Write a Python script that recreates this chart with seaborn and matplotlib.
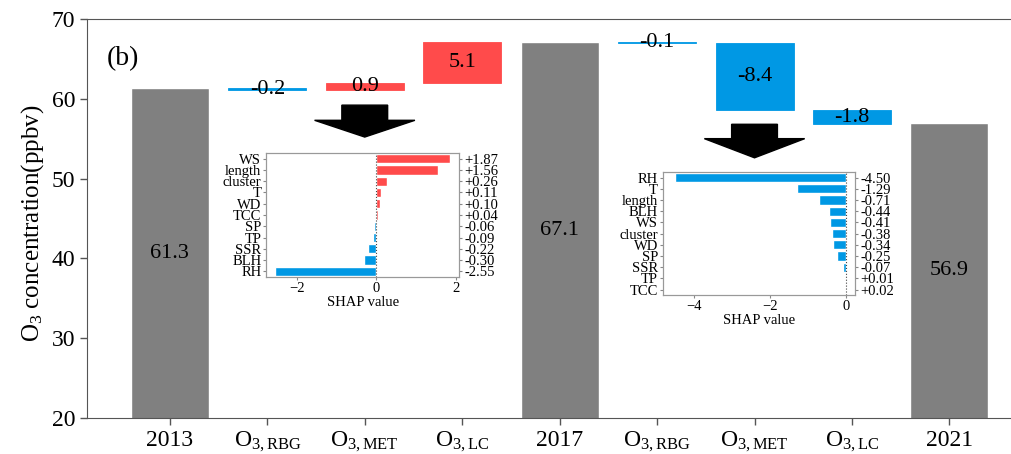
import numpy as np
import pandas as pd
import matplotlib
matplotlib.use('Agg')
import matplotlib.pyplot as plt
import seaborn as sns

sns.set_style('white')
plt.rcParams['font.family'] = ['Liberation Serif', 'DejaVu Serif']
plt.rcParams['mathtext.fontset'] = 'custom'
plt.rcParams['mathtext.rm'] = 'Liberation Serif'
plt.rcParams['mathtext.it'] = 'Liberation Serif:italic'
plt.rcParams['text.color'] = 'black'
plt.rcParams['axes.labelcolor'] = 'black'
plt.rcParams['xtick.labelcolor'] = 'black'
plt.rcParams['ytick.labelcolor'] = 'black'

#### waterfall data
steps = ['2013', 'RBG1', 'MET1', 'LC1', '2017', 'RBG2', 'MET2', 'LC2', '2021']
step_labels = ['2013', r'O$_{\mathrm{3,RBG}}$', r'O$_{\mathrm{3,MET}}$', r'O$_{\mathrm{3,LC}}$',
               '2017', r'O$_{\mathrm{3,RBG}}$', r'O$_{\mathrm{3,MET}}$', r'O$_{\mathrm{3,LC}}$', '2021']
years = ['2013', '2017', '2021']
year_o3 = [61.3, 67.1, 56.9]
delta_steps = ['RBG1', 'MET1', 'LC1', 'RBG2', 'MET2', 'LC2']
delta_o3 = [-0.2, 0.9, 5.1, -0.1, -8.4, -1.8]

#### SHAP data (insets)
shap1_feat = ['WS', 'length', 'cluster', 'T', 'WD', 'TCC', 'SP', 'TP', 'SSR', 'BLH', 'RH']
shap1_val = [1.87, 1.56, 0.26, 0.11, 0.10, 0.04, -0.06, -0.09, -0.22, -0.30, -2.55]
shap2_feat = ['RH', 'T', 'length', 'BLH', 'WS', 'cluster', 'WD', 'SP', 'SSR', 'TP', 'TCC']
shap2_val = [-4.50, -1.29, -0.71, -0.44, -0.41, -0.38, -0.34, -0.25, -0.07, 0.01, 0.02]

red = '#ff4b4b'
blue = '#0098e4'
gray = '#808080'

fig = plt.figure(figsize=(10.12, 4.54), dpi=100)
ax = fig.add_axes([0.086, 0.0793, 0.934, 0.879])

ymin = 20
tot = pd.DataFrame({'step': years, 'o3': year_o3})
sns.barplot(data=tot, x='step', y='o3', order=steps, color=gray, width=0.8,
            saturation=1, ax=ax)

# floating bars start where the previous step ended
starts = []
level = year_o3[0]
d = dict(zip(delta_steps, delta_o3))
y_by = dict(zip(years, year_o3))
for s in steps:
    if s in y_by:
        level = y_by[s]
    elif s in d:
        starts.append(level)
        level = level + d[s]
pos = [steps.index(s) for s in delta_steps]
cols = [red if v > 0 else blue for v in delta_o3]
ax.bar(pos, delta_o3, bottom=starts, width=0.8, color=cols, edgecolor=cols, linewidth=0.6)

for s, v in zip(years, year_o3):
    ax.text(steps.index(s), (ymin + v) / 2, f'{v:.1f}', ha='center', va='center', fontsize=16)
for p, b, v in zip(pos, starts, delta_o3):
    ax.text(p, b + v / 2, f'{v:.1f}', ha='center', va='center', fontsize=16)

ax.set_ylim(ymin, 70)
ax.set_xlim(-0.85, 8.85)
ax.set_yticks([20, 30, 40, 50, 60, 70])
ax.set_xticks(range(len(steps)))
ax.set_xticklabels(step_labels)
ax.tick_params(axis='both', labelsize=17, direction='out', length=5, width=1,
               bottom=True, left=True, color='#555555')
ax.set_xlabel('')
ax.set_ylabel(r'O$_3$ concentration(ppbv)', fontsize=18)
ax.yaxis.set_label_coords(-0.043, 0.489)
for sp in ax.spines.values():
    sp.set_color('#555555')
ax.text(0.021, 0.9, '(b)', transform=ax.transAxes, fontsize=20, ha='left', va='center')

# arrows pointing to the SHAP panels
ax.arrow(steps.index('MET1'), 59.2, 0, -4.0, width=0.47, head_width=1.03,
         head_length=2.1, length_includes_head=True, color='black')
ax.arrow(steps.index('MET2'), 56.8, 0, -4.2, width=0.47, head_width=1.03,
         head_length=2.4, length_includes_head=True, color='black')


def shap_panel(rect, feats, vals, xlim, xticks):
    ins = fig.add_axes(rect)
    df = pd.DataFrame({'feat': feats, 'val': vals})
    df['sign'] = np.where(df['val'] > 0, 'pos', 'neg')
    sns.barplot(data=df, y='feat', x='val', hue='sign', order=feats,
                palette={'pos': red, 'neg': blue}, dodge=False, width=0.82,
                saturation=1, legend=False, ax=ins)
    ins.axvline(0, color='#444444', ls=':', lw=0.8)
    ins.set_xlim(*xlim)
    ins.set_xticks(xticks)
    ins.set_ylabel('')
    ins.set_xlabel('SHAP value', fontsize=10.5, labelpad=1)
    ins.tick_params(labelsize=10.5, length=2.5, pad=1, left=True, bottom=True, color='#888888')
    for sp in ins.spines.values():
        sp.set_color('#999999')
    tw = ins.twinx()
    tw.set_ylim(ins.get_ylim())
    tw.set_yticks(range(len(feats)))
    tw.set_yticklabels([f'{v:+.2f}' for v in vals])
    tw.tick_params(labelsize=10.5, length=2.5, pad=1, color='#888888')
    for sp in tw.spines.values():
        sp.set_color('#999999')
    return ins


shap_panel([0.263, 0.390, 0.1907, 0.273], shap1_feat, shap1_val, (-2.78, 2.09), [-2, 0, 2])
shap_panel([0.655, 0.350, 0.190, 0.271], shap2_feat, shap2_val, (-4.82, 0.24), [-4, -2, 0])

plt.savefig('out.png', dpi=100)
